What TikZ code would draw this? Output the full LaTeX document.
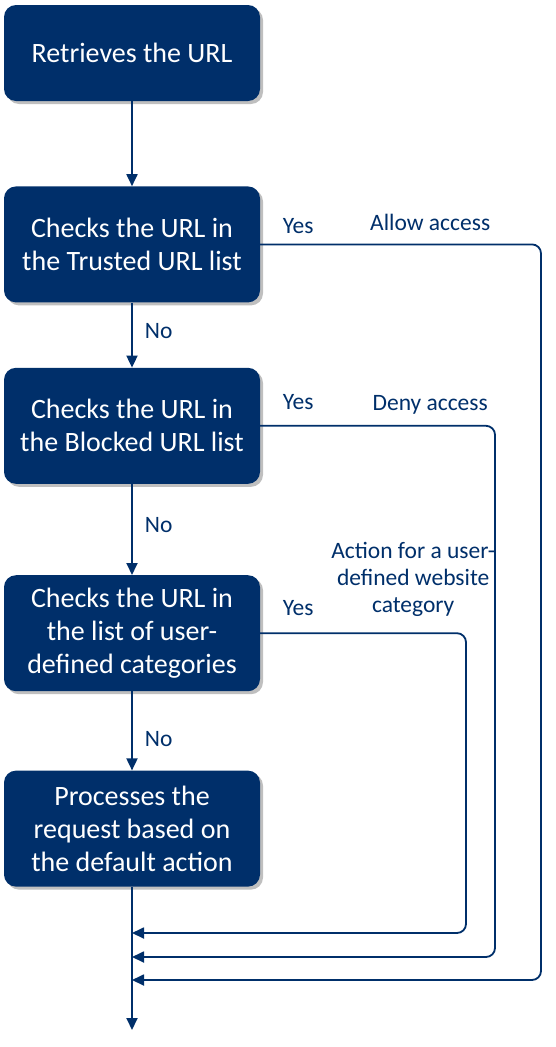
\documentclass[tikz,border=0pt]{standalone}
\usepackage{fontspec}
\setmainfont{Carlito}
\usetikzlibrary{positioning,arrows.meta,shadows}
\definecolor{navy}{HTML}{002F6A}

\begin{document}
\begin{tikzpicture}[x=1pt,y=-1pt,
  box/.style={fill=navy,rounded corners=12pt,text=white,align=center,
    minimum width=256pt,minimum height=116pt,inner sep=0pt,
    font=\fontsize{28}{33}\selectfont,
    drop shadow={shadow xshift=3pt,shadow yshift=-3pt,opacity=.25,fill=black}},
  lbl/.style={text=navy,align=center,inner sep=0pt,font=\fontsize{23.5}{27}\selectfont},
  ar/.style={draw=navy,line width=1.8pt,-{Triangle[length=12pt,width=11pt]}},
  fb/.style={ar,rounded corners=9pt}, node distance=65pt]
\useasboundingbox (0,0) rectangle (555,1047);
\node[box,minimum height=96pt] (b1) at (132,53) {Retrieves the URL};
\node[box,below=85pt of b1] (b2) {Checks the URL in\\the Trusted URL list};
\node[box,below=of b2] (b3) {Checks the URL in\\the Blocked URL list};
\node[box,below=91pt of b3] (b4) {Checks the URL in\\the list of user-\\defined categories};
\node[box,below=79pt of b4] (b5) {Processes the\\request based on\\the default action};
% joins on the trunk
\coordinate (j1) at (132,933);
\coordinate (j2) at (132,957);
\coordinate (j3) at (132,980);
\coordinate (out) at (132,1030);
\draw[ar] (b1) -- (b2);
\draw[ar] (b2) -- node[lbl,right=12pt,yshift=4pt]{No} (b3);
\draw[ar] (b3) -- node[lbl,right=12pt,yshift=4pt]{No} (b4);
\draw[ar] (b4) -- node[lbl,right=12pt,yshift=-8pt]{No} (b5);
\draw[ar] (b5) -- (out);
\draw[fb] (b2.east) -| (541,980) -- (j3);
\draw[fb] (b3.east) -| (495,957) -- (j2);
\draw[fb] (b4.east) -| (466,933) -- (j1);
\node[lbl] at ([shift={(38,-18)}]b2.east) {Yes};
\node[lbl] at ([shift={(170,-22)}]b2.east) {Allow access};
\node[lbl] at ([shift={(38,-24)}]b3.east) {Yes};
\node[lbl] at ([shift={(170,-21)}]b3.east) {Deny access};
\node[lbl] at ([shift={(38,-25)}]b4.east) {Yes};
\node[lbl] at ([shift={(153,-54)}]b4.east) {Action for a user-\\defined website\\category};
\end{tikzpicture}
\end{document}
